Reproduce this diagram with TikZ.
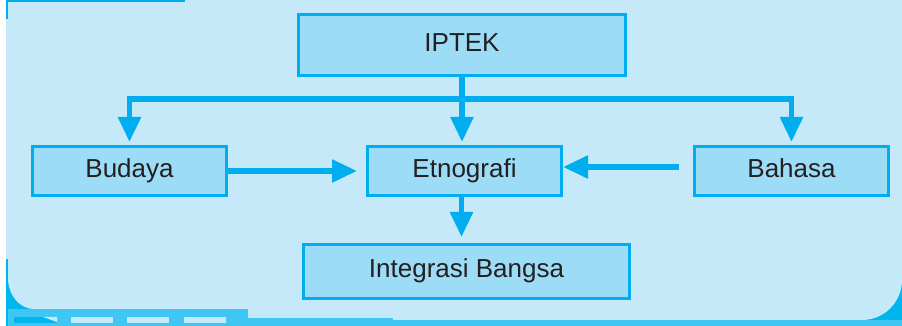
\documentclass[tikz,border=0pt]{standalone}
\usepackage{fontspec}
\setmainfont{Liberation Sans}
\usepackage{xcolor}
\usepackage{tikz}
\usetikzlibrary{arrows.meta,positioning}
\definecolor{panellight}{RGB}{198,233,249}
\definecolor{boxfill}{RGB}{156,220,247}
\definecolor{flowblue}{RGB}{0,174,239}
\definecolor{stripblue}{RGB}{64,198,242}
\definecolor{cornerblue}{RGB}{0,182,238}
\definecolor{textdark}{RGB}{35,31,32}

\begin{document}
\begin{tikzpicture}[
                x=1pt, y=1pt,
                node distance=68pt,
                box/.style={rectangle, draw=flowblue, fill=boxfill, line width=3pt, inner sep=0pt, minimum height=49pt, minimum width=194pt, text height=18.6pt, text depth=6.4pt, align=center, text=textdark, font=\fontsize{26}{30}\selectfont},
                flow/.style={draw=flowblue, line width=5.5pt, -{Triangle[length=25pt,width=22pt]}}
            ]
                \useasboundingbox (0,0) rectangle (902,326);
                % page background and bottom band
                \fill[white] (0,0) rectangle (902,326);
                \fill[cornerblue] (6,0) rectangle (902,67);
                \fill[panellight] (6,326) -- (902,326) -- (902,46) arc[start angle=0, end angle=-90, radius=40] -- (248,6) -- (248,17) -- (34,17) arc[start angle=270, end angle=180, x radius=26, y radius=31] -- (8,67) -- (6,67) -- cycle;
                \fill[stripblue] (248,0) rectangle (902,6);
                \fill[stripblue] (248,0) rectangle (393,8);
                \fill[stripblue] (8,0) rectangle (248,17);
                \fill[cornerblue] (14,3) rectangle (57,9);
                \fill[panellight] (43,9) -- (57,9) -- (57,4) -- cycle;
                \foreach \dx in {71,127,184}
                    \fill[panellight] (\dx,3) rectangle ++(42,6);
                \fill[flowblue] (6,326) rectangle (185,324);
                \fill[flowblue] (6,326) rectangle (8,307);

                % diagram
                \node[box] (etno) at (464.5,155) {Etnografi};
                \node[box, minimum width=327pt, minimum height=61pt, above=of etno, xshift=-2.5pt] (iptek) {IPTEK};
                \node[box, left=138pt of etno] (budaya) {Budaya};
                \node[box, right=130pt of etno] (bahasa) {Bahasa};
                \node[box, minimum width=326pt, minimum height=54pt, below=46pt of etno, xshift=2pt] (integ) {Integrasi Bangsa};

                \coordinate (bus) at ([yshift=-22pt]iptek.south);
                \draw[flow] (iptek.south) -- ([yshift=3pt]iptek.south |- etno.north);
                \draw[flow] (bus) -| ([yshift=3pt]budaya.north);
                \draw[flow] (bus) -| ([yshift=3pt]bahasa.north);
                \draw[flow] (budaya.east) -- ([xshift=-9pt]etno.west);
                \draw[flow] ([xshift=-14pt,yshift=4pt]bahasa.west) -- ([yshift=4pt]etno.east);
                \draw[flow] ([xshift=-3pt]etno.south) -- ([xshift=-3pt,yshift=6pt]etno.south |- integ.north);
            \end{tikzpicture}
\end{document}
